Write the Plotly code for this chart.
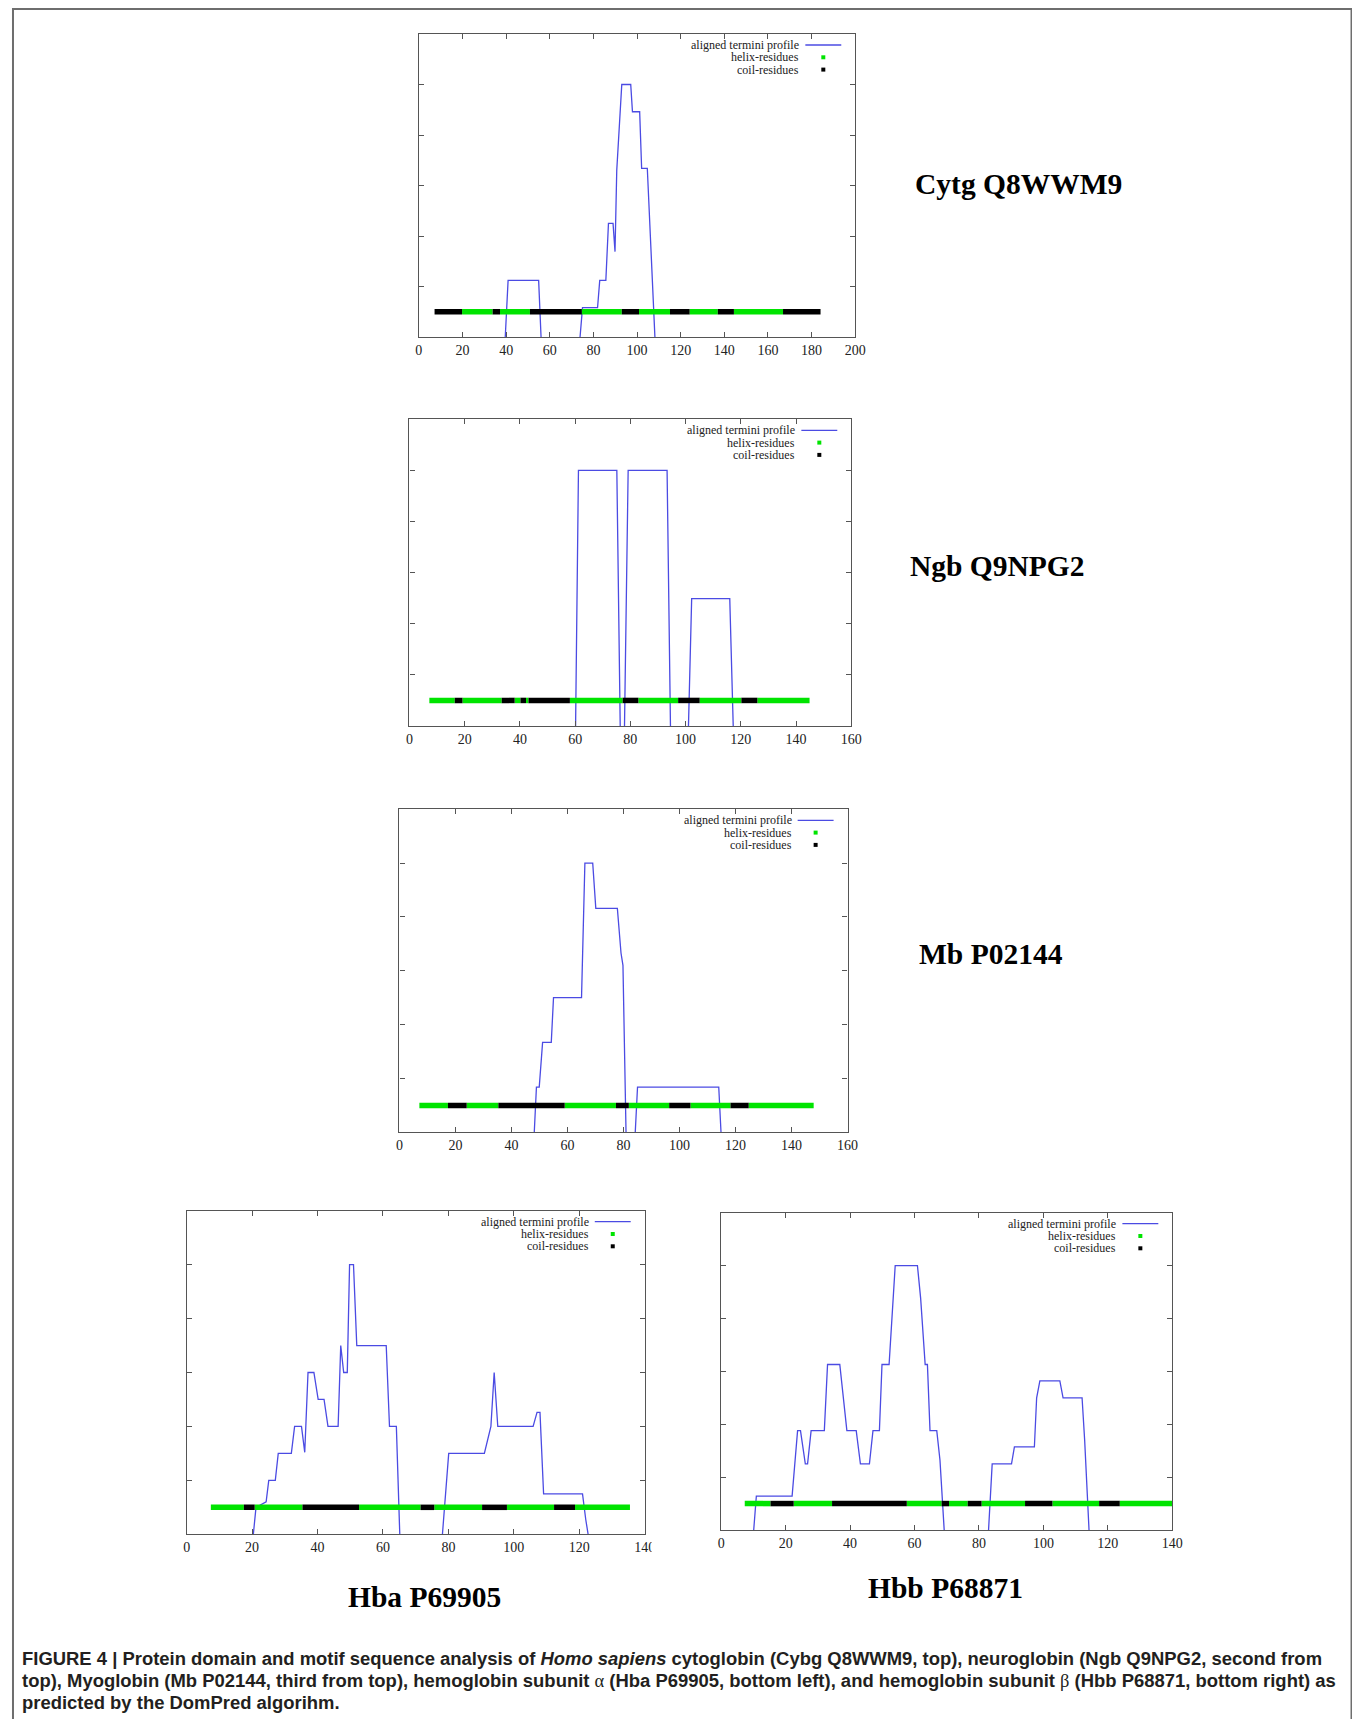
import plotly.graph_objects as go

# page body has an 8px default margin; the capture also maps page x as 2.07 + 0.991*x
PAGE_OFF = 8
XA, XS = 2.07, 0.991
W, H = 1356, 1711

# ---------------- data ----------------
# aligned termini profile (values below 0 are clipped by the axis, as in the original)
cytg_prof_x = [7, 39.25, 40.9, 54.9, 56.3, 73.3, 75.0, 81.9, 82.9, 85.7, 86.9, 89.0, 89.9, 90.7,
               93.0, 97.1, 97.9, 101.2, 102.1, 104.7, 108.5, 184]
cytg_prof_y = [-0.3, -0.3, 1.12, 1.12, -0.3, -0.3, 0.58, 0.58, 1.12, 1.12, 2.25, 2.25, 1.69, 3.3,
               5.0, 5.0, 4.46, 4.46, 3.34, 3.34, -0.3, -0.3]

ngb_prof_x = [7, 60.1, 61.2, 75.1, 76.4, 77.8, 79.2, 93.3, 94.6, 100.9, 102.2, 116.0, 117.4, 145]
ngb_prof_y = [-0.3, -0.3, 5.0, 5.0, -0.3, -0.3, 5.0, 5.0, -0.3, -0.3, 2.49, 2.49, -0.3, -0.3]

mb_prof_x = [7, 47.85, 48.9, 49.9, 51.1, 54.2, 55.0, 65.0, 66.2, 69.0, 70.1, 77.8, 79.1, 79.8, 81.0,
             83.9, 85.0, 114.0, 115.1, 148]
mb_prof_y = [-0.3, -0.3, 0.84, 0.84, 1.67, 1.67, 2.5, 2.5, 5.0, 5.0, 4.16, 4.16, 3.33, 3.1, -0.3,
             -0.3, 0.84, 0.84, -0.3, -0.3]

hba_prof_x = [7, 19.9, 21.2, 24.3, 25.1, 27.1, 28.0, 32.0, 33.0, 35.1, 36.1, 37.1, 38.9, 40.2, 42.0,
              43.2, 46.3, 47.1, 48.0, 49.1, 49.8, 51.0, 52.0, 61.0, 62.0, 64.1, 65.3, 77.8, 80.1,
              91.0, 93.0, 94.0, 95.1, 105.9, 107.1, 108.0, 109.1, 121.0, 122.0, 123.5, 136]
hba_prof_y = [-0.3, -0.3, 0.5, 0.6, 1.0, 1.0, 1.5, 1.5, 2.0, 2.0, 1.52, 3.0, 3.0, 2.5, 2.5,
              2.0, 2.0, 3.5, 3.0, 3.0, 5.0, 5.0, 3.5, 3.5, 2.0, 2.0, -0.3, -0.3, 1.5,
              1.5, 2.0, 3.0, 2.0, 2.0, 2.26, 2.26, 0.75, 0.75, 0.27, -0.3, -0.3]

hbb_prof_x = [7, 9.7, 10.9, 22.0, 23.7, 24.6, 26.1, 26.8, 27.9, 32.0, 33.0, 36.8, 39.0, 41.9, 43.2,
              46.0, 47.1, 49.1, 49.9, 52.1, 54.0, 60.9, 61.9, 63.3, 64.0, 64.8, 66.9, 67.9, 69.5,
              82.7, 84.1, 90.1, 91.0, 97.2, 97.9, 98.9, 105.1, 106.1, 112.0, 112.8, 114.4, 141]
hbb_prof_y = [-0.3, -0.3, 0.64, 0.64, 1.88, 1.88, 1.25, 1.25, 1.88, 1.88, 3.13, 3.13, 1.88, 1.88, 1.25,
              1.25, 1.88, 1.88, 3.13, 3.13, 5.0, 5.0, 4.38, 3.13, 3.13, 1.88, 1.88, 1.32, -0.3,
              -0.3, 1.25, 1.25, 1.57, 1.57, 2.5, 2.82, 2.82, 2.5, 2.5, 1.7, -0.3, -0.3]

# secondary-structure segments: boundaries and type of each segment
cytg_seg_edges = [7.2, 19.8, 33.8, 37.2, 50.9, 74.7, 93.0, 100.9, 115.1, 124.1, 137.0, 144.4, 166.9, 184.1]
cytg_seg_types = ["coil", "helix", "coil", "helix", "coil", "helix", "coil", "helix", "coil", "helix",
                  "coil", "helix", "coil"]

ngb_seg_edges = [7.2, 16.4, 19.2, 33.4, 38.1, 40.2, 42.2, 43.1, 58.1, 77.2, 82.9, 97.3, 105.1, 120.2, 126.0, 144.9]
ngb_seg_types = ["helix", "coil", "helix", "coil", "helix", "coil", "helix", "coil", "helix", "coil",
                 "helix", "coil", "helix", "coil", "helix"]

mb_seg_edges = [7.1, 17.3, 24.0, 35.3, 59.0, 77.3, 81.9, 96.3, 103.9, 118.2, 124.7, 147.9]
mb_seg_types = ["helix", "coil", "helix", "coil", "helix", "coil", "helix", "coil", "helix", "coil", "helix"]

hba_seg_edges = [7.4, 17.5, 20.8, 35.4, 52.7, 71.5, 75.7, 90.3, 97.9, 112.3, 118.7, 135.5]
hba_seg_types = ["helix", "coil", "helix", "coil", "helix", "coil", "helix", "coil", "helix", "coil", "helix"]

hbb_seg_edges = [7.3, 15.3, 22.5, 34.4, 57.6, 68.4, 70.7, 76.5, 80.8, 94.3, 102.8, 117.3, 123.7, 140.5]
hbb_seg_types = ["helix", "coil", "helix", "coil", "helix", "coil", "helix", "coil", "helix", "coil",
                 "helix", "coil", "helix"]

seg_level = 0.5

xticks_200 = [0, 20, 40, 60, 80, 100, 120, 140, 160, 180, 200]
xticks_160 = [0, 20, 40, 60, 80, 100, 120, 140, 160]
xticks_140 = [0, 20, 40, 60, 80, 100, 120, 140]
yticks = [1, 2, 3, 4, 5]

panel_names = ["Cytg Q8WWM9", "Ngb Q9NPG2", "Mb P02144", "Hba P69905", "Hbb P68871"]
legend_labels = ["aligned termini profile", "helix-residues", "coil-residues"]

GREEK = '<span style="font-family:Liberation Serif;font-weight:normal">{}</span>'
caption_lines = [
    "FIGURE 4 | Protein domain and motif sequence analysis of <i>Homo sapiens</i> cytoglobin "
    "(Cybg Q8WWM9, top), neuroglobin (Ngb Q9NPG2, second from",
    "top), Myoglobin (Mb P02144, third from top), hemoglobin subunit " + GREEK.format("α") +
    " (Hba P69905, bottom left), and hemoglobin subunit " + GREEK.format("β") +
    " (Hbb P68871, bottom right) as",
    "predicted by the DomPred algorihm.",
]

# ---------------- layout config (page-pixel boxes) ----------------
panels = [
    dict(px=cytg_prof_x, py=cytg_prof_y, edges=cytg_seg_edges, types=cytg_seg_types, ticks=xticks_200,
         box=(417.7, 34, 855, 337), label=(1019, 184)),
    dict(px=ngb_prof_x, py=ngb_prof_y, edges=ngb_seg_edges, types=ngb_seg_types, ticks=xticks_160,
         box=(408.3, 419.3, 851, 726), label=(998, 566)),
    dict(px=mb_prof_x, py=mb_prof_y, edges=mb_seg_edges, types=mb_seg_types, ticks=xticks_160,
         box=(398.3, 809.3, 847.3, 1132.3), label=(991, 954)),
    dict(px=hba_prof_x, py=hba_prof_y, edges=hba_seg_edges, types=hba_seg_types, ticks=xticks_140,
         box=(185, 1210.7, 644, 1534.3), label=(423, 1597)),
    dict(px=hbb_prof_x, py=hbb_prof_y, edges=hbb_seg_edges, types=hbb_seg_types, ticks=xticks_140,
         box=(720.7, 1212.7, 1172.7, 1530), label=(945, 1588)),
]

BLUE = "#4b4be3"
GREEN = "#00e400"
BLACK = "#000000"
FRAME = "#555555"
seg_colors = {"helix": GREEN, "coil": BLACK}


def fx(p):
    return ((p - XA) / XS - PAGE_OFF) / W


def fy(p):
    return 1 - (p - PAGE_OFF) / H


fig = go.Figure()
shapes = []
annotations = []

for i, pnl in enumerate(panels):
    k = "" if i == 0 else str(i + 1)
    xa, ya = "x" + k, "y" + k
    x0, y0, x1, y1 = pnl["box"]

    fig.add_trace(go.Scatter(x=pnl["px"], y=pnl["py"], mode="lines", xaxis=xa, yaxis=ya,
                             line=dict(color=BLUE, width=1.3), showlegend=False, hoverinfo="skip"))
    for kind in ("helix", "coil"):
        sx, sy = [], []
        for j, t in enumerate(pnl["types"]):
            if t == kind:
                sx += [pnl["edges"][j], pnl["edges"][j + 1], None]
                sy += [seg_level, seg_level, None]
        fig.add_trace(go.Scatter(x=sx, y=sy, mode="lines", xaxis=xa, yaxis=ya,
                                 line=dict(color=seg_colors[kind], width=5.5), showlegend=False,
                                 hoverinfo="skip"))

    ticks = pnl["ticks"]
    fig.layout["xaxis" + k] = dict(
        domain=[fx(x0), fx(x1)], anchor=ya, range=[ticks[0], ticks[-1]],
        tickvals=ticks, ticktext=[str(t) for t in ticks], ticks="inside", ticklen=5,
        tickcolor=FRAME, tickwidth=1, showline=True, linecolor=FRAME, linewidth=1.3,
        mirror="ticks", showgrid=False, zeroline=False,
        tickfont=dict(family="Liberation Serif", size=14, color="#222222"))
    fig.layout["yaxis" + k] = dict(
        domain=[fy(y1), fy(y0)], anchor=xa, range=[0, 6], tickvals=yticks,
        showticklabels=False, ticks="inside", ticklen=5, tickcolor=FRAME, tickwidth=1,
        showline=True, linecolor=FRAME, linewidth=1.3, mirror="ticks",
        showgrid=False, zeroline=False)

    # gnuplot-style key (text right-aligned, sample on the right)
    for r, txt in enumerate(legend_labels):
        yy = y0 + 11 + r * 12.3
        annotations.append(dict(x=fx(x1 - 54), y=fy(yy), xref="paper", yref="paper", text=txt,
                                showarrow=False, xanchor="right", yanchor="middle",
                                font=dict(family="Liberation Serif", size=12, color="#222222")))
    shapes.append(dict(type="line", xref="paper", yref="paper", x0=fx(x1 - 50), x1=fx(x1 - 14),
                       y0=fy(y0 + 11), y1=fy(y0 + 11), line=dict(color=BLUE, width=1.3)))
    for r, col in ((1, GREEN), (2, BLACK)):
        yy = y0 + 11 + r * 12.3
        shapes.append(dict(type="rect", xref="paper", yref="paper", x0=fx(x1 - 34), x1=fx(x1 - 30),
                           y0=fy(yy - 2), y1=fy(yy + 2), line=dict(width=0), fillcolor=col))

    lx, ly = pnl["label"]
    annotations.append(dict(x=fx(lx), y=fy(ly), xref="paper", yref="paper",
                            text="<b>" + panel_names[i] + "</b>", showarrow=False,
                            xanchor="center", yanchor="middle",
                            font=dict(family="Liberation Serif", size=29.5, color="#000000")))

# the cropped "140" label of the bottom-left panel
shapes.append(dict(type="rect", xref="paper", yref="paper", layer="above",
                   x0=fx(651), x1=fx(705), y0=fy(1560), y1=fy(1537),
                   line=dict(width=0), fillcolor="white"))

# outer frame of the figure (kept inside the figure area)
shapes.append(dict(type="rect", xref="paper", yref="paper", x0=1.0 / W,
                   x1=min(fx(1355), (W - 1.5) / W),
                   y0=fy(1760), y1=1 - 1.0 / H, line=dict(color="#6e6e6e", width=2)))

for r, line in enumerate(caption_lines):
    annotations.append(dict(x=fx(18), y=fy(1658 + r * 22), xref="paper", yref="paper",
                            text="<b>" + line + "</b>", showarrow=False, xanchor="left",
                            yanchor="middle", align="left",
                            font=dict(family="Liberation Sans", size=18.45, color="#231f20")))

fig.update_layout(width=W, height=H, margin=dict(l=0, r=0, t=0, b=0),
                  paper_bgcolor="white", plot_bgcolor="white",
                  shapes=shapes, annotations=annotations, showlegend=False)

fig.write_html("out.html")
